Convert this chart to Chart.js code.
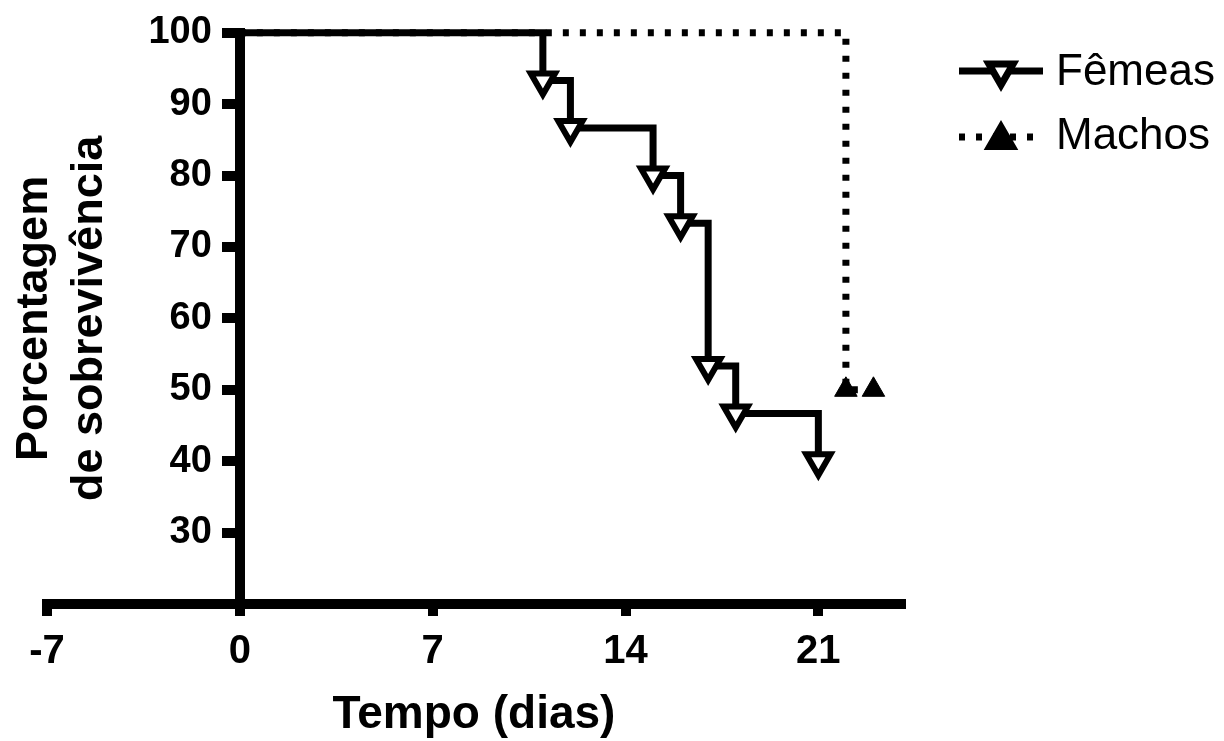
<!DOCTYPE html>
<html>
<head>
<meta charset="utf-8">
<script src="https://cdn.jsdelivr.net/npm/chart.js@4.4.1/dist/chart.umd.min.js"></script>
<style>
  html, body { margin: 0; padding: 0; background: #fff; }
  #wrap { width: 1224px; height: 741px; }
</style>
</head>
<body>
<div id="wrap"><canvas id="c" width="1224" height="741"></canvas></div>
<script>
// ---- data ----
const femeasDias = [0, 11, 12, 15, 16, 17, 18, 21];
const femeasSobrevivencia = [100, 93.33, 86.67, 80, 73.33, 53.33, 46.67, 40];
const machosDias = [0, 22, 23];
const machosSobrevivencia = [100, 50, 50];
const xTickValues = [-7, 0, 7, 14, 21];
const yTickValues = [30, 40, 50, 60, 70, 80, 90, 100];
const serieNomes = ['Fêmeas', 'Machos'];
const tituloX = 'Tempo (dias)';
const tituloY = ['Porcentagem', 'de sobrevivência'];

const FONT = "'Liberation Sans', Arial, sans-serif";

const toPoints = (xs, ys) => xs.map((x, i) => ({x: x, y: ys[i]}));

// y axis sits at x = 0: move its labels to the left of the tick marks
const yLabelShift = {
  id: 'yLabelShift',
  beforeDraw(chart) {
    const s = chart.scales.y;
    const base = chart.scales.x.getPixelForValue(0) - 28;
    s.getLabelItems(chart.chartArea).forEach(it => {
      it.options.translation[0] = base;
      it.options.textAlign = 'right';
    });
  }
};

const legendPlugin = {
  id: 'customLegend',
  afterDraw(chart) {
    const ctx = chart.ctx;
    const rows = [71, 137];
    const x0 = 959, x1 = 1043, mx = 1001, tx = 1056;
    chart.data.datasets.forEach((ds, i) => {
      const y = rows[i];
      ctx.save();
      ctx.strokeStyle = ds.borderColor;
      ctx.lineWidth = ds.borderWidth;
      ctx.lineCap = 'butt';
      ctx.setLineDash(ds.borderDash || []);
      ctx.beginPath();
      ctx.moveTo(x0, y);
      ctx.lineTo(x1, y);
      ctx.stroke();
      ctx.setLineDash([]);
      ctx.fillStyle = ds.pointBackgroundColor;
      ctx.strokeStyle = ds.pointBorderColor;
      Chart.helpers.drawPoint(ctx, {
        pointStyle: ds.pointStyle,
        rotation: ds.pointRotation || 0,
        radius: ds.legendRadius,
        borderWidth: ds.pointBorderWidth
      }, mx, y + (ds.pointRotation ? 0 : 3));
      ctx.restore();
      ctx.save();
      ctx.fillStyle = '#000';
      ctx.font = "44px " + FONT;
      ctx.textBaseline = 'alphabetic';
      ctx.textAlign = 'left';
      ctx.fillText(ds.label, tx, y + (i === 0 ? 14 : 12));
      ctx.restore();
    });
  }
};

new Chart(document.getElementById('c'), {
  type: 'line',
  data: {
    datasets: [
      {
        label: serieNomes[0],
        data: toPoints(femeasDias, femeasSobrevivencia),
        stepped: true,
        borderColor: '#000',
        borderWidth: 7,
        fill: false,
        pointStyle: 'triangle',
        pointRotation: 180,
        pointRadius: femeasDias.map((d, i) => i === 0 ? 0 : 14),
        legendRadius: 14,
        pointBackgroundColor: '#fff',
        pointBorderColor: '#000',
        pointBorderWidth: 6,
        clip: false
      },
      {
        label: serieNomes[1],
        data: toPoints(machosDias, machosSobrevivencia),
        stepped: true,
        borderColor: '#000',
        borderWidth: 7,
        borderDash: [6, 11],
        borderCapStyle: 'butt',
        fill: false,
        pointStyle: 'triangle',
        pointRotation: 0,
        pointRadius: machosDias.map((d, i) => i === 0 ? 0 : 13),
        legendRadius: 13,
        pointBackgroundColor: '#000',
        pointBorderColor: '#000',
        pointBorderWidth: 1,
        clip: false
      }
    ]
  },
  options: {
    responsive: false,
    animation: false,
    events: [],
    devicePixelRatio: 1,
    layout: { padding: { left: 0, top: 32, right: 323, bottom: 0 } },
    plugins: {
      legend: { display: false },
      tooltip: { enabled: false }
    },
    scales: {
      x: {
        type: 'linear',
        position: 'bottom',
        min: -7,
        max: 24,
        afterBuildTicks: (s) => { s.ticks = xTickValues.map(v => ({value: v})); },
        afterFit: (s) => { s.height = 137; },
        border: { display: true, width: 10, color: '#000' },
        grid: { drawOnChartArea: false, drawTicks: true, tickLength: 12, tickWidth: 10, lineWidth: 10, color: '#000' },
        ticks: {
          color: '#000',
          padding: 12,
          maxRotation: 0,
          autoSkip: false,
          font: { family: FONT, size: 40, weight: 'bold' },
          callback: (v) => String(v)
        },
        title: {
          display: true,
          text: tituloX,
          color: '#000',
          font: { family: FONT, size: 46, weight: 'bold', lineHeight: 1.1 },
          padding: { top: 0, bottom: 0 }
        }
      },
      y: {
        type: 'linear',
        position: { x: 0 },
        min: 20,
        max: 100,
        afterBuildTicks: (s) => { s.ticks = yTickValues.map(v => ({value: v})); },
        border: { display: true, width: 10, color: '#000' },
        grid: { drawOnChartArea: false, drawTicks: true, tickLength: 13, tickWidth: 10, lineWidth: 10, color: '#000' },
        ticks: {
          color: '#000',
          padding: 10,
          autoSkip: false,
          font: { family: FONT, size: 38, weight: 'bold' },
          callback: (v) => String(v)
        },
        title: { display: false }
      },
      yTitulo: {
        type: 'linear',
        axis: 'y',
        position: 'left',
        min: 0,
        max: 1,
        afterFit: (s) => { s.width = 47; },
        border: { display: false },
        grid: { display: false, drawTicks: false },
        ticks: { display: false },
        title: {
          display: true,
          text: tituloY,
          color: '#000',
          font: { family: FONT, size: 45, weight: 'bold', lineHeight: 1.22 },
          padding: { top: 7, bottom: 0 }
        }
      }
    }
  },
  plugins: [yLabelShift, legendPlugin]
});
</script>
</body>
</html>
